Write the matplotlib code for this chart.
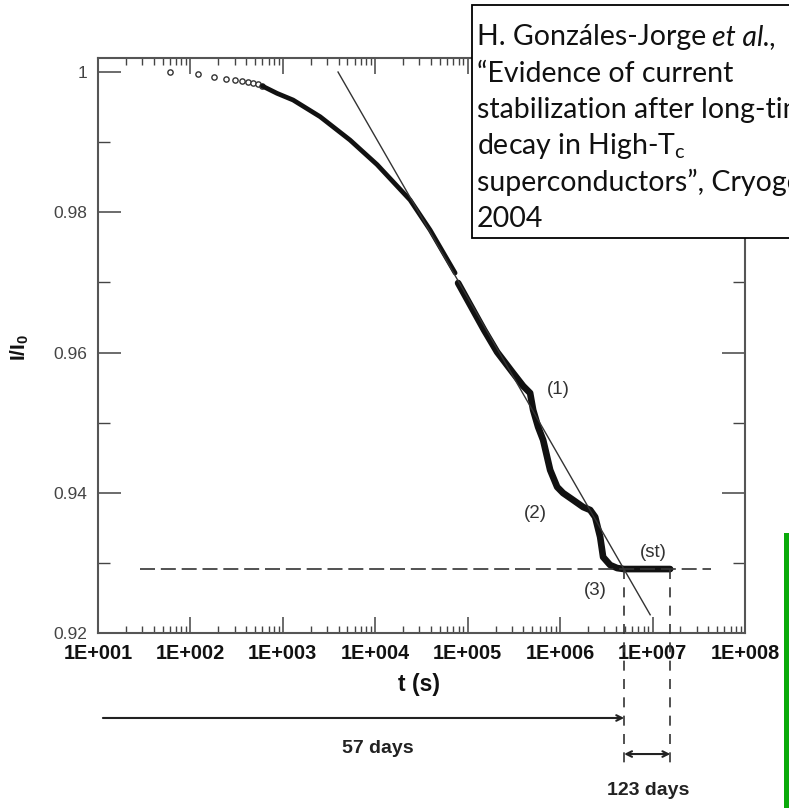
import numpy as np
import matplotlib
matplotlib.use("Agg")
import matplotlib.pyplot as plt
from matplotlib.ticker import LogLocator, NullFormatter, FixedLocator
from matplotlib.patches import Rectangle

plt.rcParams['font.family'] = ['Liberation Sans', 'DejaVu Sans']
plt.rcParams['mathtext.fontset'] = 'custom'
plt.rcParams['mathtext.rm'] = 'Liberation Sans'
plt.rcParams['mathtext.bf'] = 'Liberation Sans:bold'
plt.rcParams['mathtext.sf'] = 'Lato'

# sparse first readings, one every 60 s
early_t = [60, 120, 180, 240, 300, 360, 420, 480, 540, 600]
early_y = [0.99996, 0.99967, 0.99924, 0.99900, 0.99886, 0.99872, 0.99854, 0.99839, 0.99825, 0.99800]

# dense part, before the small gap near 8e4 s
upper_t = [600, 865, 1290, 2530, 5330, 6840, 10450, 23800, 39200, 73100]
upper_y = [0.99800, 0.99696, 0.99601, 0.99363, 0.99030, 0.98900, 0.98680, 0.98175, 0.97747, 0.97134]

# dense part after the gap, down to the stabilised current
lower_t = [78700, 150300, 208000, 309700, 398100, 473200, 510500, 578100, 654600, 779800,
           929000, 1076000, 1384000, 1774000, 2113000, 2393000, 2710000, 2917000, 3475000,
           4140000, 4932000, 8318000, 15490000]
lower_y = [0.96991, 0.96321, 0.96007, 0.95707, 0.95522, 0.95422, 0.95180, 0.94937, 0.94752, 0.94324,
           0.94082, 0.93996, 0.93896, 0.93796, 0.93754, 0.93654, 0.93369, 0.93083, 0.92969,
           0.92926, 0.92912, 0.92912, 0.92912]

# straight log fit
fit_t = [3954, 9.42e6]
fit_y = [1.0, 0.9226]

stable_level = 0.9291
day = 86400
t_57 = 57 * day
t_180 = 180 * day

xticks = [1e1, 1e2, 1e3, 1e4, 1e5, 1e6, 1e7, 1e8]
xtick_labels = ['1E+001', '1E+002', '1E+003', '1E+004', '1E+005', '1E+006', '1E+007', '1E+008']
yticks = [0.92, 0.94, 0.96, 0.98, 1.0]
ytick_labels = ['0.92', '0.94', '0.96', '0.98', '1']
yminor = [0.93, 0.95, 0.97, 0.99]

W, H = 789, 808
fig = plt.figure(figsize=(W / 100, H / 100), dpi=100)
ax = fig.add_axes([98 / W, 1 - 633 / H, (745 - 98) / W, (633 - 58) / H])

ax.set_xscale('log')
ax.set_xlim(1e1, 1e8)
ax.set_ylim(0.92, 1.002)

ink = '#111111'
ax.plot(early_t, early_y, 'o', ms=3.8, mfc='white', mec='#333333', mew=1.0)
ax.plot(upper_t, upper_y, color=ink, lw=3.4, solid_capstyle='round')
ax.plot(lower_t, lower_y, color=ink, lw=4.8, solid_capstyle='round', solid_joinstyle='round')
ax.plot(fit_t, fit_y, color='#333333', lw=1.0)

ax.plot([28.5, 4.3e7], [stable_level, stable_level], color='#333333', lw=1.2,
        linestyle=(0, (9, 3.5)))
ax.plot([t_57, t_57], [stable_level, 0.9009], color='#333333', lw=1.2,
        linestyle=(0, (6, 5)), clip_on=False, zorder=3)
ax.plot([t_180, t_180], [stable_level, 0.9005], color='#333333', lw=1.2,
        linestyle=(0, (6, 5)), clip_on=False, zorder=3)

ax.annotate('', xy=(t_57, 0.90788), xytext=(11.3, 0.90788), annotation_clip=False,
            arrowprops=dict(arrowstyle='->', color='#222222', lw=1.5, shrinkA=0, shrinkB=0))
ax.annotate('', xy=(t_180, 0.90274), xytext=(t_57, 0.90274), annotation_clip=False,
            arrowprops=dict(arrowstyle='<->', color='#222222', lw=1.5, shrinkA=0, shrinkB=0))
ax.text(10 ** 4.03, 0.90360, '57 days', ha='center', va='center', fontsize=14,
        fontweight='bold', color='#222222', clip_on=False)
ax.text(8.95e6, 0.89761, '123 days', ha='center', va='center', fontsize=14,
        fontweight='bold', color='#222222', clip_on=False)

lab = dict(fontsize=13.5, color='#333333', ha='center', va='center')
ax.text(10 ** 5.978, 0.95479, '(1)', **lab)
ax.text(10 ** 5.729, 0.93711, '(2)', **lab)
ax.text(10 ** 6.379, 0.92613, '(3)', **lab)
ax.text(10 ** 7.006, 0.93155, '(st)', **lab)

# axes styling
for s in ax.spines.values():
    s.set_color('#555555')
    s.set_linewidth(1.5)
ax.set_xticks(xticks, labels=xtick_labels, fontweight='bold')
ax.xaxis.set_minor_locator(LogLocator(base=10, subs=np.arange(2, 10), numticks=100))
ax.xaxis.set_minor_formatter(NullFormatter())
ax.set_yticks(yticks, labels=ytick_labels)
ax.yaxis.set_minor_locator(FixedLocator(yminor))
ax.tick_params(axis='x', which='major', direction='in', length=11.5, width=1.1,
               color='#444444', top=True, labelsize=14.3, labelcolor='#111111', pad=8)
ax.tick_params(axis='x', which='minor', direction='in', length=5, width=1.0,
               color='#444444', top=True)
ax.tick_params(axis='y', which='major', direction='in', length=16.5, width=1.1,
               color='#444444', right=True, labelsize=12.5, labelcolor='#444444', pad=8)
ax.tick_params(axis='y', which='minor', direction='in', length=8.6, width=1.0,
               color='#444444', right=True)

ax.set_xlabel('t (s)', fontsize=16.5, fontweight='bold', color='#111111', va='center')
ax.xaxis.set_label_coords((419 - 98) / 647, (633 - 684) / 575)
ax.set_ylabel('I/I$_\\mathbf{0}$', fontsize=15, fontweight='bold', color='#111111', va='center')
ax.yaxis.set_label_coords((20 - 98) / 647, (633 - 347) / 575)

# reference box
fig.patches.append(Rectangle((472 / W, 1 - 238 / H), 400 / W, 233 / H, transform=fig.transFigure,
                             facecolor='white', edgecolor='black', lw=1.3, zorder=5))
box_size = 20.5
box_style = dict(fontsize=box_size, family='Lato', ha='left', va='baseline', color='#111111', zorder=6)
baselines = [45.5 + 36.3 * i for i in range(6)]

renderer = fig.canvas.get_renderer()
first = fig.text(477 / W, 1 - baselines[0] / H, 'H. Gonzáles-Jorge', **box_style)
bb = first.get_window_extent(renderer)
space_px = 0.2 * box_size * 100 / 72
fig.text((bb.x1 + space_px) / W, 1 - baselines[0] / H, 'et al.,', style='italic', **box_style)

box_lines = [
    '\u201cEvidence of current',
    'stabilization after long-time',
    'decay in High-T$_\\mathsf{c}$',
    'superconductors\u201d, Cryogenics',
    '2004',
]
for line, base in zip(box_lines, baselines[1:]):
    fig.text(477 / W, 1 - base / H, line, **box_style)

# green bar on the right edge
fig.patches.append(Rectangle((784 / W, 0), 5 / W, 1 - 533 / H, transform=fig.transFigure,
                             facecolor='#0aaa0a', edgecolor='none', zorder=5))

fig.savefig('out.png', dpi=100)
